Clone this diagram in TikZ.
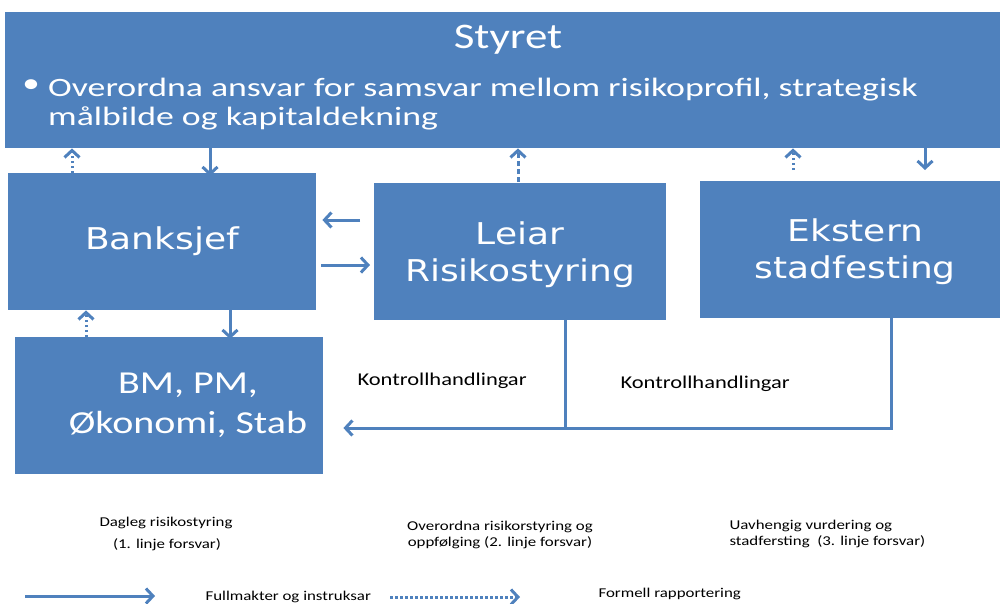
\documentclass[tikz,border=0pt]{standalone}
\usepackage{fontspec}
\setmainfont[FakeStretch=1.25]{Carlito}
\newfontfamily\boxfont[FakeStretch=1.2]{DejaVu Sans}
\newfontfamily\widefont[FakeStretch=1.35]{Carlito}
\usetikzlibrary{arrows.meta}
\definecolor{boxblue}{HTML}{4F81BD}
\tikzset{
  unit/.style={fill=boxblue, draw=none, anchor=north west, inner sep=0pt,
    text=white, align=center},
  boxtext/.style={font=\boxfont\fontsize{30}{37}\selectfont},
  note/.style={font=\fontsize{13.5}{16}\selectfont, align=center},
  order/.style={draw=boxblue, line width=3pt,
    -{Straight Barb[length=7pt, width=15pt]}},
  report/.style={order, dash pattern=on 2.5pt off 2.5pt},
  reportdash/.style={order, dash pattern=on 5pt off 3pt},
}
\begin{document}
\begin{tikzpicture}[x=1pt, y=-1pt]
  \useasboundingbox (0,0) rectangle (1000,603);
  % boxes
  \node[unit, minimum width=995pt, minimum height=136pt] (styret) at (5,12) {};
  \node[unit, boxtext, minimum width=308pt, minimum height=137pt] (banksjef) at (8,173) {Banksjef};
  \node[unit, boxtext, minimum width=292pt, minimum height=137pt] (leiar) at (374,183) {};
  \node[unit, boxtext, minimum width=300pt, minimum height=137pt] (ekstern) at (700,181) {};
  \node[unit, minimum width=308pt, minimum height=137pt] (bm) at (15,337) {};
  % texts in boxes
  \node[text=white, font=\fontsize{36}{40}\selectfont] (tittel) at (508,40) {Styret};
  \node[text=white, font=\fontsize{28}{29}\selectfont] (punkt) at (31,86) {\textbullet};
  \node[text=white, anchor=base west, inner sep=0pt, font=\widefont\fontsize{26.5}{29}\selectfont] (linje1) at (48,96) {Overordna ansvar for samsvar mellom risikoprofil, strategisk};
  \node[text=white, anchor=base west, inner sep=0pt, font=\widefont\fontsize{26.5}{29}\selectfont] (linje2) at (48,125) {målbilde og kapitaldekning};
  \node[text=white, align=center, boxtext] (leiartekst) at ([yshift=-3pt]leiar.center) {Leiar\\Risikostyring};
  \node[text=white, align=center, boxtext] (eksterntekst) at ([xshift=5pt,yshift=-2pt]ekstern.center) {Ekstern\\stadfesting};
  \node[text=white, align=center, font=\fontsize{32}{40}\selectfont] (bmtekst) at (188,405) {BM, PM,\\Økonomi, Stab};
  % connectors
  \draw[report] (banksjef.north -| 72,0) -- (styret.south -| 72,0);
  \draw[order] (styret.south -| 210,0) -- ([yshift=-3pt]banksjef.north -| 210,0);
  \draw[reportdash] ([yshift=-7pt]leiar.north -| 518,0) -- (styret.south -| 518,0);
  \draw[report] ([yshift=11pt]ekstern.north -| 793,0) -- (styret.south -| 793,0);
  \draw[order] (styret.south -| 925,0) -- ([yshift=11pt]ekstern.north -| 925,0);
  \draw[order] ([xshift=-14pt]leiar.west |- 0,220) -- ([xshift=6pt]banksjef.east |- 0,220);
  \draw[order] ([xshift=5pt]banksjef.east |- 0,265) -- ([xshift=-4pt]leiar.west |- 0,265);
  \draw[report] (bm.north -| 86,0) -- (banksjef.south -| 86,0);
  \draw[order] (banksjef.south -| 230,0) -- ([yshift=-2pt]bm.north -| 230,0);
  \coordinate (meet) at (565,430);
  \draw[draw=boxblue, line width=3pt] (leiar.south -| 565,0) -- (meet);
  \draw[order] ([yshift=4pt]ekstern.south -| 891,0) |- ([xshift=20pt]bm.east |- 0,428);
  \node[anchor=west, font=\fontsize{18}{22}\selectfont] (kontroll1) at (354,381) {Kontrollhandlingar};
  \node[anchor=west, font=\fontsize{18}{22}\selectfont] (kontroll2) at (617,384) {Kontrollhandlingar};
  % lines of defence
  \node[note, align=center] (forsvar1a) at (166,523) {Dagleg risikostyring};
  \node[note, align=center] (forsvar1b) at (167,545) {(1. linje forsvar)};
  \node[note, align=center] (forsvar2) at (500,535) {Overordna risikorstyring og\\oppfølging (2. linje forsvar)};
  \node[note, align=left, anchor=west] (forsvar3) at (726,534) {Uavhengig vurdering og\\stadfersting\ \ (3. linje forsvar)};
  % legend
  \coordinate (leg1a) at (25,596);
  \coordinate (leg1b) at (155,596);
  \coordinate (leg2a) at (390,597);
  \coordinate (leg2b) at (520,597);
  \draw[order] (leg1a) -- (leg1b);
  \node[note, anchor=west] (fullmakt) at (202,597) {Fullmakter og instruksar};
  \draw[report] (leg2a) -- (leg2b);
  \node[note, anchor=west] (formell) at (595,594) {Formell rapportering};
\end{tikzpicture}
\end{document}
